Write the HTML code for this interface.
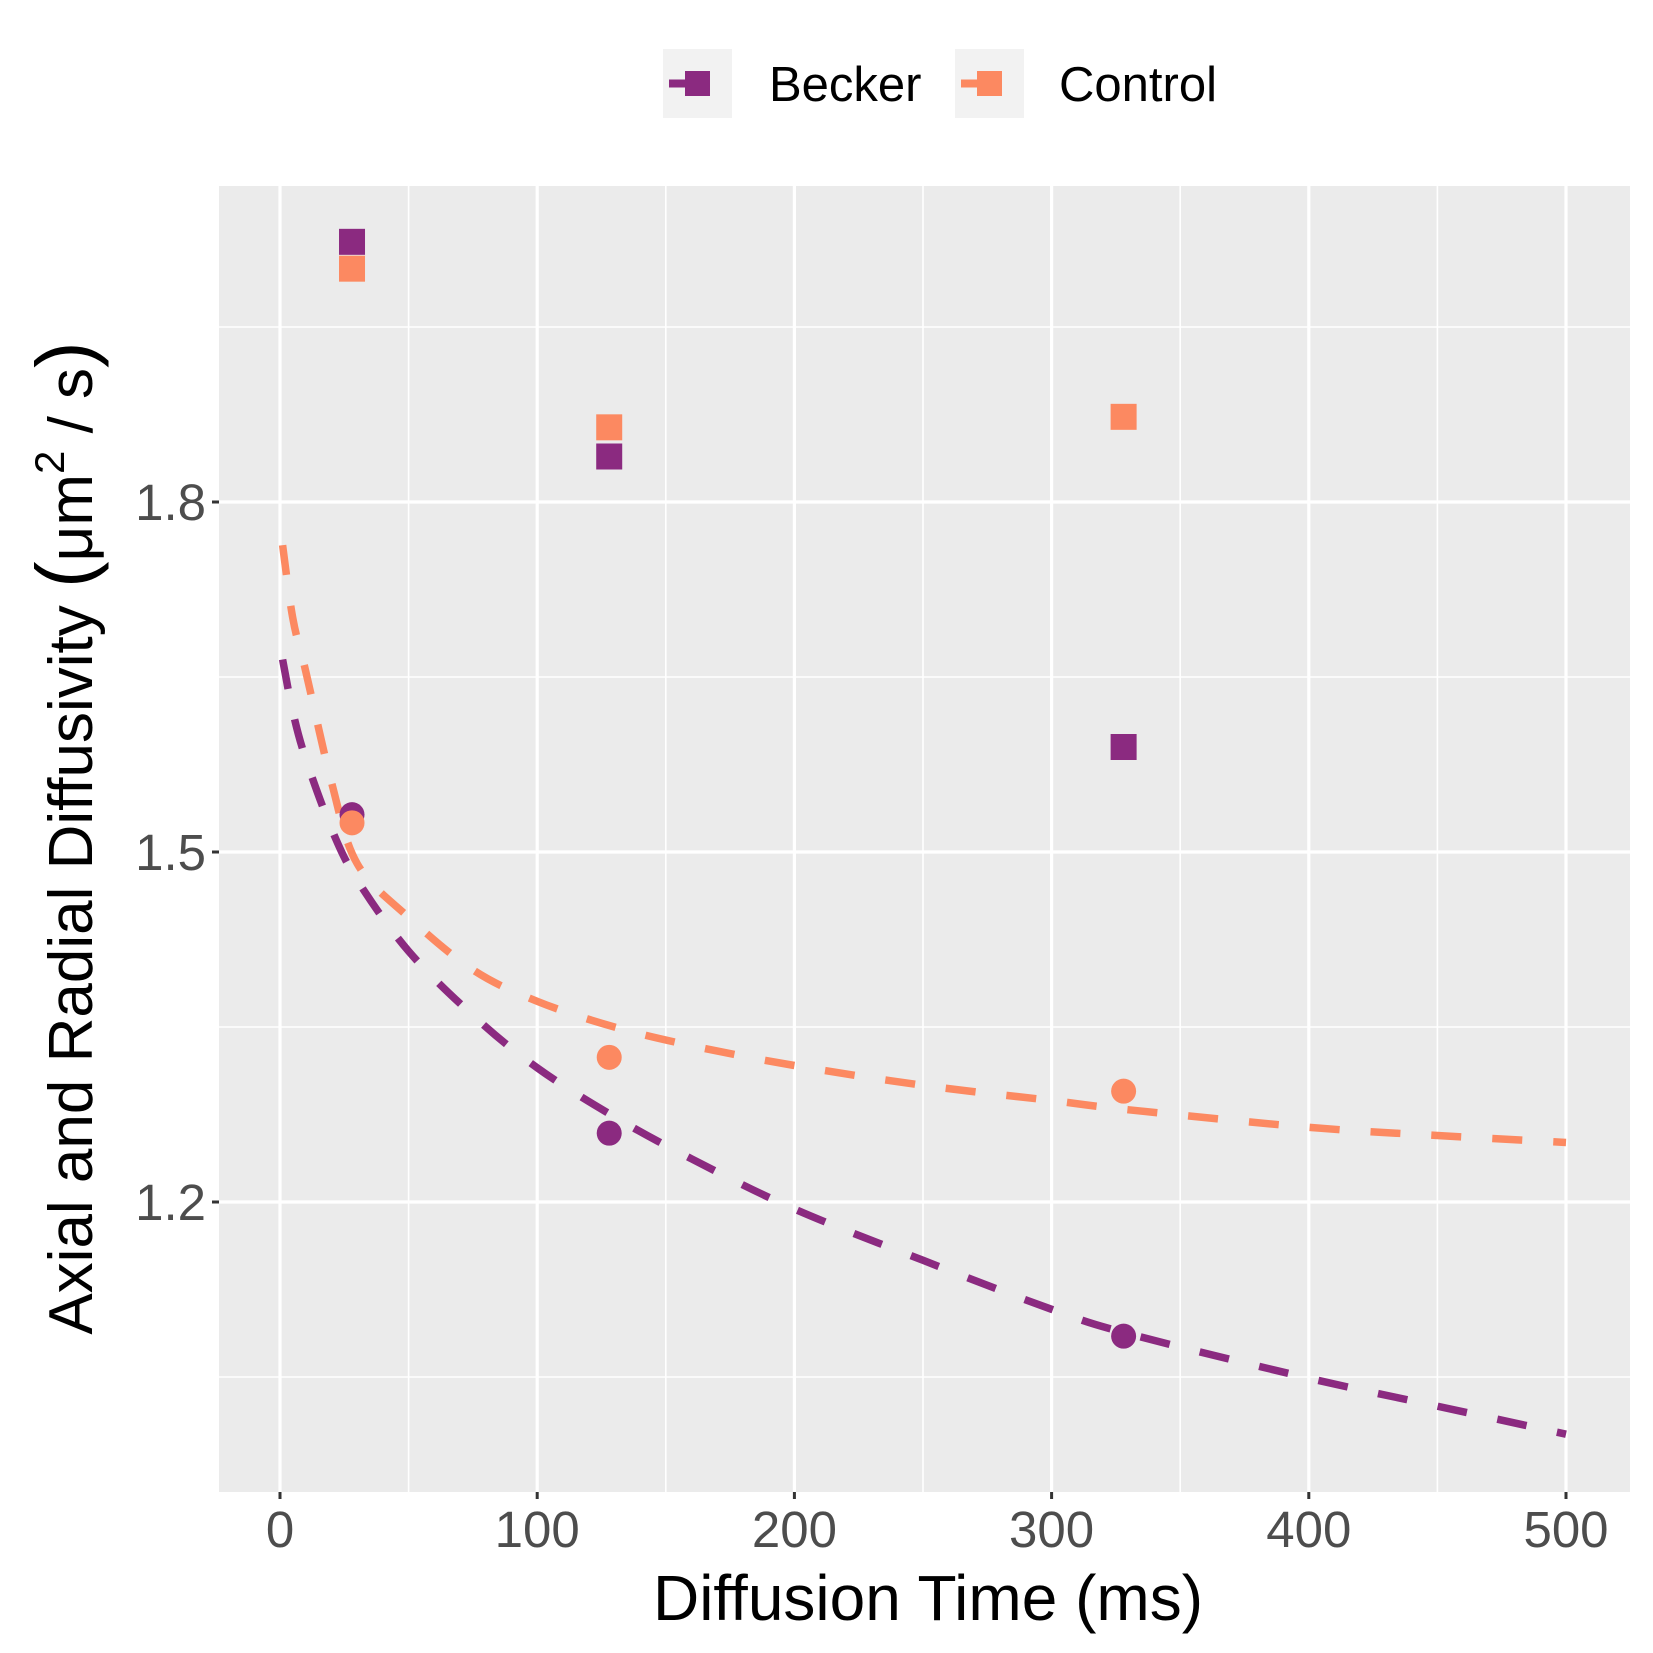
<!DOCTYPE html>
<html><head><meta charset="utf-8"><style>
html,body{margin:0;padding:0;background:#fff;}
svg{display:block;font-family:"Liberation Sans",Arial,sans-serif;}
</style></head><body>
<svg id="chart" width="1653" height="1653" viewBox="0 0 1653 1653" xmlns="http://www.w3.org/2000/svg">
<g id="legend">
  <g>
    <rect x="663" y="49" width="69" height="69" fill="#f2f2f2"/>
    <line x1="669" y1="83.5" x2="698" y2="83.5" stroke="#8B2A80" stroke-width="8"/>
    <rect x="685" y="71" width="25" height="25" fill="#8B2A80"/>
    <text x="769" y="101" font-size="49" fill="#000">Becker</text>
  </g>
  <g>
    <rect x="955" y="49" width="69" height="69" fill="#f2f2f2"/>
    <line x1="961" y1="83.5" x2="990" y2="83.5" stroke="#FC8961" stroke-width="8"/>
    <rect x="977" y="71" width="25" height="25" fill="#FC8961"/>
    <text x="1059" y="101" font-size="49" fill="#000">Control</text>
  </g>
</g>
<rect x="219" y="186" width="1411" height="1306" fill="#ebebeb"/>
<g id="grid"></g>
<g id="axes"></g>
<g id="series"></g>
<text x="928" y="1620" font-size="64" text-anchor="middle" fill="#000">Diffusion Time (ms)</text>
<text transform="translate(92,838) rotate(-90)" font-size="62" text-anchor="middle" fill="#000">Axial and Radial Diffusivity <tspan font-size="80">(</tspan>μm<tspan font-size="42" dy="-28">2</tspan><tspan dy="28" font-size="62"> / s</tspan><tspan font-size="80">)</tspan></text>
</svg>
<script>
const xTicks = [0,100,200,300,400,500];
const xMinor = [50,150,250,350,450];
const yTicks = [1.2,1.5,1.8];
const yTickLabels = ["1.2","1.5","1.8"];
const yMinor = [1.05,1.35,1.65,1.95];
const pointTimes = [28,128,328];
const beckerAxial = [2.023,1.839,1.590];
const controlAxial = [2.000,1.864,1.873];
const beckerRadial = [1.532,1.259,1.085];
const controlRadial = [1.525,1.324,1.295];
const curveTimes = [1,5,10,20,30,50,75,100,130,160,200,250,300,330,400,450,500];
const controlFit = [1.763,1.70,1.655,1.56,1.49,1.444,1.399,1.372,1.350,1.334,1.317,1.30,1.287,1.279,1.264,1.257,1.251];
const beckerFit = [1.665,1.62,1.58,1.52,1.476,1.415,1.36,1.315,1.273,1.237,1.194,1.15,1.108,1.087,1.049,1.025,1.001];

const NS="http://www.w3.org/2000/svg";
const PL=219,PR=1630,PT=186,PB=1492;
function xs(v){return 280+v*2.572;}
function ys(v){return 852-(v-1.5)*(175/0.15);}
function mk(tag,attrs,parent){const e=document.createElementNS(NS,tag);for(const k in attrs)e.setAttribute(k,attrs[k]);parent.appendChild(e);return e;}
const grid=document.getElementById('grid'),axes=document.getElementById('axes'),series=document.getElementById('series');
yMinor.forEach(v=>{const l=mk('line',{x1:PL,x2:PR,y1:ys(v),y2:ys(v),stroke:'#fff','stroke-width':1.6},grid);

});
xMinor.forEach(v=>{const l=mk('line',{x1:xs(v),x2:xs(v),y1:PT,y2:PB,stroke:'#fff','stroke-width':1.6},grid);

});
yTicks.forEach((v,i)=>{const l=mk('line',{x1:PL,x2:PR,y1:ys(v),y2:ys(v),stroke:'#fff','stroke-width':3.2},grid);


const t=mk('line',{x1:PL-7,x2:PL,y1:ys(v),y2:ys(v),stroke:'#333','stroke-width':3},axes);


const tx=mk('text',{x:PL-13,y:ys(v)+18,'font-size':51,'text-anchor':'end',fill:'#4d4d4d'},axes);
tx.textContent=yTickLabels[i];

});
xTicks.forEach(v=>{const l=mk('line',{x1:xs(v),x2:xs(v),y1:PT,y2:PB,stroke:'#fff','stroke-width':3.2},grid);


const t=mk('line',{x1:xs(v),x2:xs(v),y1:PB,y2:PB+7,stroke:'#333','stroke-width':3},axes);


const tx=mk('text',{x:xs(v),y:PB+55,'font-size':51,'text-anchor':'middle',fill:'#4d4d4d'},axes);
tx.textContent=String(v);

});
function curve(vals,color,name){
const P=curveTimes.map((t,i)=>[xs(t),ys(vals[i])]);
let d='M'+P[0][0].toFixed(1)+','+P[0][1].toFixed(1);
for(let i=0;i<P.length-1;i++){const p0=P[Math.max(0,i-1)],p1=P[i],p2=P[i+1],p3=P[Math.min(P.length-1,i+2)];
const c1=[p1[0]+(p2[0]-p0[0])/6,p1[1]+(p2[1]-p0[1])/6],c2=[p2[0]-(p3[0]-p1[0])/6,p2[1]-(p3[1]-p1[1])/6];
d+=' C'+c1[0].toFixed(1)+','+c1[1].toFixed(1)+' '+c2[0].toFixed(1)+','+c2[1].toFixed(1)+' '+p2[0].toFixed(1)+','+p2[1].toFixed(1);}
const p=mk('path',{d:d,fill:'none',stroke:color,'stroke-width':7.5,'stroke-dasharray':'30 31'},series);

}
curve(controlFit,'#FC8961','control-fit-line');
curve(beckerFit,'#8B2A80','becker-fit-line');
function squares(vals,color,name){vals.forEach((v,i)=>{const r=mk('rect',{x:xs(pointTimes[i])-13,y:ys(v)-13,width:26,height:26,fill:color},series);

});}
function circles(vals,color,name){vals.forEach((v,i)=>{const c=mk('circle',{cx:xs(pointTimes[i]),cy:ys(v),r:12.5,fill:color},series);

});}
squares(beckerAxial,'#8B2A80','becker-axial-point');
squares(controlAxial,'#FC8961','control-axial-point');
circles(beckerRadial,'#8B2A80','becker-radial-point');
circles(controlRadial,'#FC8961','control-radial-point');
</script>
</body></html>
